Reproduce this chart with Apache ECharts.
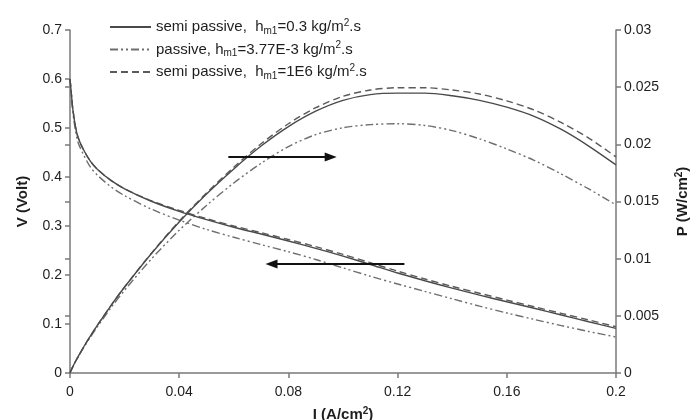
<!DOCTYPE html>
<html>
<head>
<meta charset="utf-8">
<script src="https://cdn.jsdelivr.net/npm/echarts@6/dist/echarts.min.js"></script>
<style>
html, body { margin: 0; padding: 0; background: #ffffff; }
#chart { width: 692px; height: 420px; }
</style>
</head>
<body>
<div id="chart"></div>
<script>
// Current density I (A/cm2)
const current = [0, 0.0005, 0.001, 0.002, 0.003, 0.005, 0.0075, 0.01, 0.015, 0.02, 0.03, 0.04, 0.05, 0.06, 0.07, 0.08, 0.09, 0.10, 0.11, 0.12, 0.13, 0.14, 0.15, 0.16, 0.17, 0.18, 0.19, 0.20];

// Cell voltage V (Volt)
const voltSemi03 = [0.600, 0.570, 0.540, 0.503, 0.480, 0.455, 0.432, 0.416, 0.393, 0.376, 0.350, 0.330, 0.313, 0.2975, 0.2836, 0.2694, 0.2544, 0.2385, 0.2214, 0.2040, 0.1883, 0.1732, 0.1590, 0.1453, 0.1321, 0.1183, 0.1045, 0.0910];
const voltPassive = [0.600, 0.570, 0.535, 0.495, 0.470, 0.445, 0.420, 0.404, 0.380, 0.362, 0.334, 0.312, 0.293, 0.277, 0.2620, 0.2475, 0.2317, 0.2145, 0.1975, 0.1817, 0.1665, 0.1514, 0.1365, 0.1225, 0.1094, 0.0967, 0.0847, 0.0735];
const voltSemi1E6 = [0.600, 0.570, 0.540, 0.503, 0.480, 0.455, 0.432, 0.416, 0.393, 0.376, 0.351, 0.332, 0.315, 0.3000, 0.2864, 0.2725, 0.2578, 0.2420, 0.2250, 0.2079, 0.1919, 0.1768, 0.1627, 0.1488, 0.1353, 0.1217, 0.1082, 0.0945];

// Power density P (W/cm2)
const powerSemi03 = [0, 0.000285, 0.00054, 0.001006, 0.00144, 0.002275, 0.00324, 0.00416, 0.005895, 0.00752, 0.0105, 0.0132, 0.01565, 0.01785, 0.01985, 0.02155, 0.0229, 0.02385, 0.02435, 0.02448, 0.02448, 0.02425, 0.02385, 0.02325, 0.02245, 0.0213, 0.01985, 0.0182];
const powerPassive = [0, 0.000285, 0.000535, 0.00099, 0.00141, 0.002225, 0.00315, 0.00404, 0.0057, 0.00724, 0.01002, 0.01248, 0.01465, 0.01662, 0.01834, 0.0198, 0.02085, 0.02145, 0.02172, 0.0218, 0.02165, 0.0212, 0.02048, 0.0196, 0.0186, 0.0174, 0.0161, 0.0147];
const powerSemi1E6 = [0, 0.000285, 0.00054, 0.001006, 0.00144, 0.002275, 0.00324, 0.00416, 0.005895, 0.00752, 0.01053, 0.01328, 0.01575, 0.0180, 0.02005, 0.0218, 0.0232, 0.0242, 0.02475, 0.02495, 0.02495, 0.02475, 0.0244, 0.0238, 0.0230, 0.0219, 0.02055, 0.0189];

// Tick settings
const xTicks = { min: 0, max: 0.2, interval: 0.04 };
const vTicks = { min: 0, max: 0.7, interval: 0.1 };
const pTicks = { min: 0, max: 0.03, interval: 0.005 };

// Arrow annotations (I, V): right-pointing arrow toward P axis, left-pointing toward V axis
const arrowToPower = [[0.058, 0.4408], [0.0955, 0.4408]];
const arrowToVoltage = [[0.1225, 0.2224], [0.0738, 0.2224]];

const names = ['semi03', 'passive', 'semi1E6'];
const legendLabels = {
  semi03: '{t|semi passive,  }{t|h}{sub|m1}{t|=0.3 kg/m}{sup|2}{t|.s}',
  passive: '{t|passive, }{t|h}{sub|m1}{t|=3.77E-3 kg/m}{sup|2}{t|.s}',
  semi1E6: '{t|semi passive,  }{t|h}{sub|m1}{t|=1E6 kg/m}{sup|2}{t|.s}'
};

const styles = {
  semi03: { color: '#4a4a4a', width: 1.4, type: 'solid' },
  passive: { color: '#6e6e6e', width: 1.4, type: [8, 3, 2, 3, 2, 3] },
  semi1E6: { color: '#5a5a5a', width: 1.4, type: [7, 4] }
};

const pairs = (xs, ys) => xs.map((x, i) => [x, ys[i]]);

const voltData = { semi03: voltSemi03, passive: voltPassive, semi1E6: voltSemi1E6 };
const powerData = { semi03: powerSemi03, passive: powerPassive, semi1E6: powerSemi1E6 };

const FONT = 'Liberation Sans, Arial, sans-serif';
const axisColor = '#7a7a7a';
const textColor = '#1e1e1e';

const series = [];
names.forEach((n, k) => {
  const s = {
    name: n, type: 'line', xAxisIndex: 0, yAxisIndex: 0,
    data: pairs(current, voltData[n]),
    symbol: 'none', smooth: 0.3, lineStyle: styles[n], itemStyle: { color: styles[n].color },
    z: 3 - k
  };
  if (n === 'semi03') {
    s.markLine = {
      silent: true, symbol: ['none', 'triangle'], symbolSize: [9, 12],
      label: { show: false },
      lineStyle: { color: '#111111', width: 2, type: 'solid' },
      data: [
        [{ coord: arrowToPower[0] }, { coord: arrowToPower[1] }],
        [{ coord: arrowToVoltage[0] }, { coord: arrowToVoltage[1] }]
      ]
    };
  }
  series.push(s);
});
names.forEach((n, k) => {
  series.push({
    name: n, type: 'line', xAxisIndex: 0, yAxisIndex: 1,
    data: pairs(current, powerData[n]),
    symbol: 'none', smooth: 0.3, lineStyle: styles[n], itemStyle: { color: styles[n].color },
    z: 3 - k
  });
});

const chart = echarts.init(document.getElementById('chart'), null, { renderer: 'canvas' });
chart.setOption({
  animation: false,
  backgroundColor: '#ffffff',
  grid: { left: 70, right: 76, top: 30, bottom: 47, containLabel: false, outerBoundsMode: 'none' },
  legend: {
    data: names,
    orient: 'vertical',
    left: 109, top: 18, padding: 0,
    itemWidth: 41, itemHeight: 14, itemGap: 4.5,
    selectedMode: false,
    itemStyle: { color: 'rgba(0,0,0,0)', borderWidth: 0, opacity: 0 },
    formatter: n => legendLabels[n],
    textStyle: {
      fontFamily: FONT, color: textColor,
      rich: {
        t: { fontFamily: FONT, fontSize: 15, color: textColor, lineHeight: 18 },
        sub: { fontFamily: FONT, fontSize: 10, color: textColor, lineHeight: 18, verticalAlign: 'bottom' },
        sup: { fontFamily: FONT, fontSize: 10, color: textColor, lineHeight: 18, verticalAlign: 'top' }
      }
    }
  },
  xAxis: [{
    type: 'value', min: xTicks.min, max: xTicks.max, interval: xTicks.interval,
    name: '{b|I (A/cm}{s|2}{b|)}', nameLocation: 'middle', nameGap: 33,
    nameTextStyle: {
      rich: {
        b: { fontFamily: FONT, fontSize: 15, fontWeight: 'bold', color: textColor, lineHeight: 18 },
        s: { fontFamily: FONT, fontSize: 10, fontWeight: 'bold', color: textColor, lineHeight: 18, verticalAlign: 'top' }
      }
    },
    axisLine: { show: true, onZero: false, lineStyle: { color: axisColor, width: 1.5 } },
    axisTick: { show: true, inside: false, length: 5, lineStyle: { color: axisColor, width: 1.5 } },
    axisLabel: { fontFamily: FONT, fontSize: 14, color: textColor, margin: 12, formatter: v => String(+v.toFixed(2)) },
    splitLine: { show: false }
  }],
  yAxis: [{
    type: 'value', position: 'left', min: vTicks.min, max: vTicks.max, interval: vTicks.interval,
    name: 'V (Volt)', nameLocation: 'middle', nameGap: 40, nameRotate: 90,
    nameTextStyle: { fontFamily: FONT, fontSize: 15, fontWeight: 'bold', color: textColor },
    axisLine: { show: true, onZero: false, lineStyle: { color: axisColor, width: 1.5 } },
    axisTick: { show: true, inside: false, length: 5, lineStyle: { color: axisColor, width: 1.5 } },
    axisLabel: { fontFamily: FONT, fontSize: 14, color: textColor, margin: 8, formatter: v => String(+v.toFixed(1)) },
    splitLine: { show: false }
  }, {
    type: 'value', position: 'right', min: pTicks.min, max: pTicks.max, interval: pTicks.interval,
    name: '{b|P (W/cm}{s|2}{b|)}', nameLocation: 'middle', nameGap: 58, nameRotate: 90,
    nameTextStyle: {
      rich: {
        b: { fontFamily: FONT, fontSize: 15, fontWeight: 'bold', color: textColor, lineHeight: 18 },
        s: { fontFamily: FONT, fontSize: 10, fontWeight: 'bold', color: textColor, lineHeight: 18, verticalAlign: 'top' }
      }
    },
    axisLine: { show: true, onZero: false, lineStyle: { color: axisColor, width: 1.5 } },
    axisTick: { show: true, inside: false, length: 5, lineStyle: { color: axisColor, width: 1.5 } },
    axisLabel: { fontFamily: FONT, fontSize: 14, color: textColor, margin: 8, formatter: v => String(+v.toFixed(3)) },
    splitLine: { show: false }
  }, {
    // inner half of the crossing ticks on the power axis
    type: 'value', position: 'right', min: pTicks.min, max: pTicks.max, interval: pTicks.interval,
    axisLine: { show: false },
    axisTick: { show: true, inside: true, length: 5, lineStyle: { color: axisColor, width: 1.5 } },
    axisLabel: { show: false },
    splitLine: { show: false }
  }],
  series: series
});
</script>
</body>
</html>
